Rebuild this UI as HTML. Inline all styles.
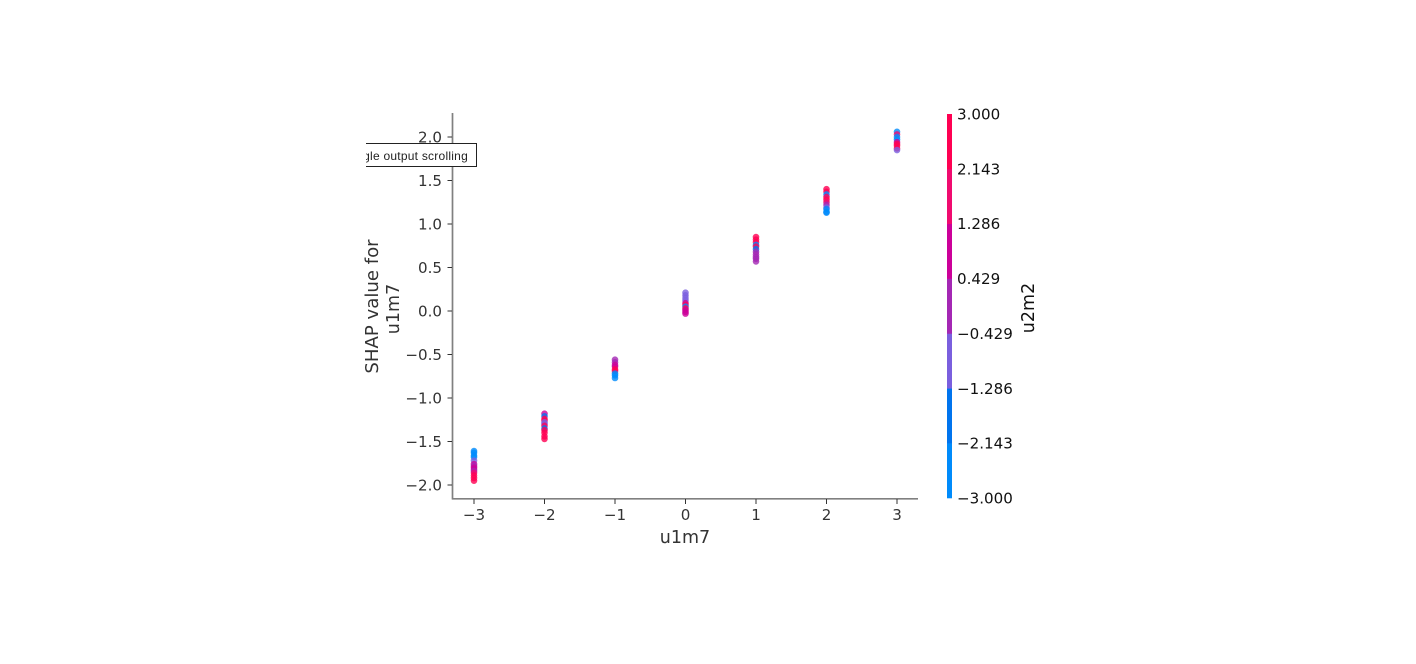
<!DOCTYPE html>
<html>
<head>
<meta charset="utf-8">
<title>SHAP dependence plot</title>
<style>
html,body{margin:0;padding:0;background:#fff;width:1416px;height:664px;overflow:hidden}
#chart{position:absolute;left:0;top:0}
text{font-family:"DejaVu Sans",sans-serif}
#toggle{position:absolute;left:366px;top:143px;width:111px;height:24px;box-sizing:border-box;background:#fff;border:1px solid #222;border-left:none;overflow:hidden;white-space:nowrap;font:12px/24px "Liberation Sans",sans-serif;color:#222}
#toggle span{position:absolute;right:8px;top:0;letter-spacing:0.02em}
</style>
</head>
<body>
<svg id="chart" width="1416" height="664" viewBox="0 0 1416 664" xmlns="http://www.w3.org/2000/svg"></svg>
<div id="toggle"><span>Toggle output scrolling</span></div>
<script>
const xCategories = [-3, -2, -1, 0, 1, 2, 3];
const shapColumns = [
  [-1.61,-1.63,-1.66,-1.68,-1.72,-1.76,-1.78,-1.80,-1.82,-1.84,-1.86,-1.89,-1.92,-1.95],
  [-1.18,-1.21,-1.24,-1.26,-1.28,-1.30,-1.32,-1.35,-1.37,-1.40,-1.44,-1.47],
  [-0.56,-0.59,-0.62,-0.64,-0.67,-0.69,-0.72,-0.74,-0.77],
  [0.21,0.18,0.15,0.12,0.09,0.07,0.05,0.03,0.01,-0.01,-0.03],
  [0.85,0.82,0.79,0.76,0.74,0.71,0.68,0.65,0.62,0.60,0.57],
  [1.40,1.37,1.34,1.31,1.28,1.25,1.22,1.19,1.17,1.14,1.13],
  [2.06,2.03,2.00,1.97,1.94,1.92,1.90,1.87,1.85]
];
const colorColumns = [
  [-3,-2.8,-2.6,-2.5,-0.8,1,0.2,1,0.8,-0.2,2,2.5,3,3],
  [1,-2,3,2.5,-1,-0.8,2.5,-1.5,3,2.5,3,3],
  [-0.2,-0.2,1,0.9,2.5,3,-2.5,-2.8,-3],
  [-0.8,-0.8,-0.9,-0.7,1,3,-2.5,2.5,1.2,1,0.9],
  [3,2.8,2.6,-2.5,3,-2,0,0,0,0,0],
  [3,2.5,-2.3,3,3,1.5,-0.2,-0.5,-2.8,-2.8,-2.5],
  [-2.5,2,-2.6,-2.5,1,2.5,3,3,-0.8]
];
const xTickValues = [-3, -2, -1, 0, 1, 2, 3];
const yTickValues = [-2, -1.5, -1, -0.5, 0, 0.5, 1, 1.5, 2];
const colorTickLabels = ["-3.000", "-2.143", "-1.286", "-0.429", "0.429", "1.286", "2.143", "3.000"];
const colorBands = ["#008bfb", "#0074ee", "#7a5fde", "#a427b4", "#cc0099", "#f00a6f", "#ff0052"];

const svgNS = "http://www.w3.org/2000/svg";
const svg = document.getElementById("chart");
const xScale = v => 685.5 + v * 70.5;
const yScale = v => 311 - v * 87;
const cScale = v => 114 + (3 - v) / 6 * 384;
const bandOf = v => Math.max(0, Math.min(6, Math.floor((v + 3) / 6 * 7)));
const fmt = s => String(s).replace("-", "\u2212");

function mk(tag, attrs, text) {
  const el = document.createElementNS(svgNS, tag);
  for (const k in attrs) el.setAttribute(k, attrs[k]);
  if (text !== undefined) el.textContent = text;
  svg.appendChild(el);
  return el;
}

// points
shapColumns.forEach((col, i) => {
  col.forEach((s, j) => {
    const p = mk("circle", {cx: xScale(xCategories[i]), cy: yScale(s), r: 3.3, fill: colorBands[bandOf(colorColumns[i][j])], "fill-opacity": 0.8});
    
    
  });
});

// spines
const spineL = mk("line", {x1: 452.5, y1: 113, x2: 452.5, y2: 499.5, stroke: "#808080", "stroke-width": 1.7});


const spineB = mk("line", {x1: 452, y1: 498.8, x2: 918, y2: 498.8, stroke: "#808080", "stroke-width": 1.7});



// x ticks
xTickValues.forEach(v => {
  const t = mk("line", {x1: xScale(v), y1: 499, x2: xScale(v), y2: 504, stroke: "#333", "stroke-width": 1});
  
  
  const l = mk("text", {x: xScale(v), y: 520, "text-anchor": "middle", "font-size": 15.1, fill: "#333"}, fmt(v));
  
  
});

// y ticks
yTickValues.forEach(v => {
  const t = mk("line", {x1: 447.5, y1: yScale(v), x2: 452, y2: yScale(v), stroke: "#333", "stroke-width": 1});
  
  
  const l = mk("text", {x: 442, y: yScale(v) + 5.5, "text-anchor": "end", "font-size": 15.1, fill: "#333"}, fmt(v.toFixed(1)));
  
  
});

// axis titles
const xt = mk("text", {x: 685, y: 543, "text-anchor": "middle", "font-size": 17.5, fill: "#333"}, "u1m7");


const yt1 = mk("text", {transform: "translate(378 306.5) rotate(-90)", "text-anchor": "middle", "font-size": 18.1, fill: "#333"}, "SHAP value for");


const yt2 = mk("text", {transform: "translate(399 309) rotate(-90)", "text-anchor": "middle", "font-size": 17.5, fill: "#333"}, "u1m7");



// colorbar
colorBands.forEach((c, i) => {
  const hi = -3 + (i + 1) * 6 / 7, lo = -3 + i * 6 / 7;
  const r = mk("rect", {x: 947, y: cScale(hi), width: 5, height: cScale(lo) - cScale(hi) + 0.3, fill: c});
  
  
});
colorTickLabels.forEach(s => {
  const l = mk("text", {x: 957, y: cScale(parseFloat(s)) + 5.5, "font-size": 15.1, fill: "#111"}, fmt(s));
  
  
});
const ct = mk("text", {transform: "translate(1034 308) rotate(-90)", "text-anchor": "middle", "font-size": 17.5, fill: "#111"}, "u2m2");


</script>
</body>
</html>
